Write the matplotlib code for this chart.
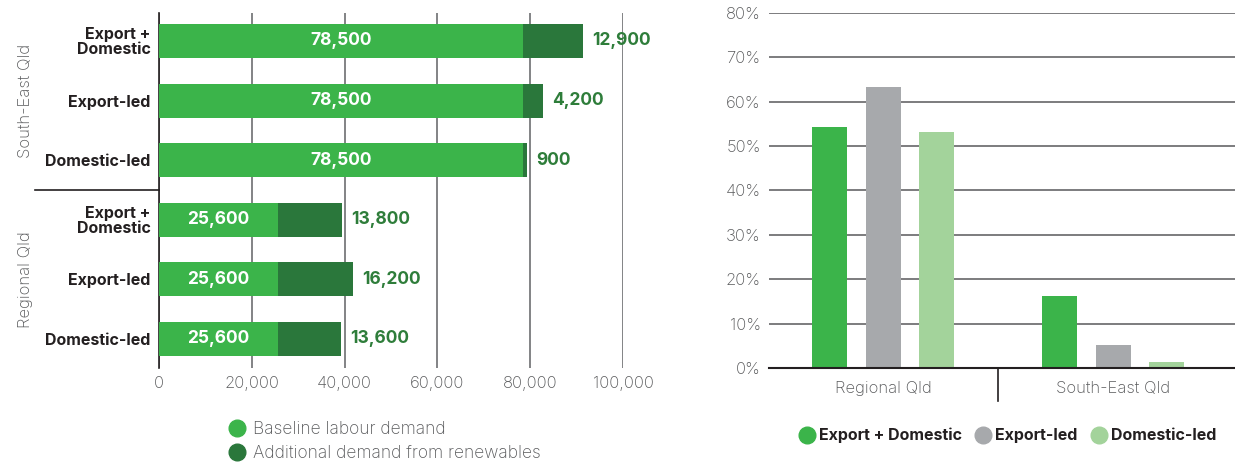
import matplotlib
matplotlib.use("Agg")
import matplotlib.pyplot as plt
from matplotlib.lines import Line2D
from matplotlib.transforms import blended_transform_factory

plt.rcParams['font.family'] = ['Inter', 'DejaVu Sans']

# ---- data ----
rows = ["Export +\nDomestic", "Export-led", "Domestic-led",
        "Export +\nDomestic", "Export-led", "Domestic-led"]
baseline = [78500, 78500, 78500, 25600, 25600, 25600]
additional = [12900, 4200, 900, 13800, 16200, 13600]
groups_left = ["South-East Qld", "Regional Qld"]
xticks_left = [0, 20000, 40000, 60000, 80000, 100000]

regions = ["Regional Qld", "South-East Qld"]
scenarios = ["Export + Domestic", "Export-led", "Domestic-led"]
share = {"Export + Domestic": [54.2, 16.2],
         "Export-led": [63.3, 5.2],
         "Domestic-led": [53.1, 1.3]}
yticks_right = [0, 10, 20, 30, 40, 50, 60, 70, 80]

GREEN = "#3BB44A"
DARK = "#2A773B"
LIGHT = "#A3D39B"
GREY = "#A7A9AC"
TXT = "#58595B"
VAL = "#2E7D3A"
DARKTXT = "#231F20"

fig = plt.figure(figsize=(12.35, 4.63), dpi=100)

# ---- left chart ----
ax = fig.add_axes([159/1235, 1-368/463, 464/1235, 355/463])
ypos = list(range(len(rows)))
ax.barh(ypos, baseline, height=0.57, color=GREEN, zorder=3)
ax.barh(ypos, additional, left=baseline, height=0.57, color=DARK, zorder=3)
ax.set_xlim(0, 100000)
ax.set_ylim(5.49, -0.47)
ax.set_xticks(xticks_left)
ax.set_xticklabels([f"{v:,}" for v in xticks_left], color=TXT, fontsize=12,
                   fontweight='light')
ax.tick_params(axis='x', length=0, pad=6)
ax.set_yticks(ypos)
ax.set_yticklabels(rows, fontsize=11.5, fontweight='bold', color=DARKTXT,
                   linespacing=0.95)
ax.tick_params(axis='y', length=0, pad=6)
for s in ['top', 'right', 'bottom']:
    ax.spines[s].set_visible(False)
ax.spines['left'].set_color(DARKTXT)
ax.spines['left'].set_linewidth(1.2)
ax.grid(axis='x', color="#6D6E71", linewidth=1.2, zorder=0)
ax.grid(axis='y', visible=False)
for y, b, a in zip(ypos, baseline, additional):
    ax.text(b/2, y, f"{b:,}", ha='center', va='center', color='white',
            fontsize=12.5, fontweight='bold', zorder=4)
    ax.text(b + a + 2000, y, f"{a:,}", ha='left', va='center', color=VAL,
            fontsize=12.5, fontweight='bold', clip_on=False)
# group separator and labels
trb = blended_transform_factory(ax.transAxes, ax.transData)
ax.plot([-0.267, 0], [2.5, 2.5], color=DARKTXT, lw=1.2, transform=trb,
        clip_on=False)
ax.text(-0.288, 1.0, groups_left[0], rotation=90, ha='center', va='center',
        transform=trb, color=TXT, fontsize=12, fontweight='light')
ax.text(-0.288, 4.0, groups_left[1], rotation=90, ha='center', va='center',
        transform=trb, color=TXT, fontsize=12, fontweight='light')

h1 = [Line2D([], [], marker='o', ls='', color=GREEN, markersize=12),
      Line2D([], [], marker='o', ls='', color=DARK, markersize=12)]
fig.legend(h1, ["Baseline labour demand", "Additional demand from renewables"],
           loc='upper left', bbox_to_anchor=(218/1235, 1-412/463), frameon=False,
           handletextpad=0.3, labelspacing=0.4, borderpad=0,
           handlelength=1.2, labelcolor=TXT,
           prop={'size': 12.5, 'weight': 'light'})

# ---- right chart ----
ax2 = fig.add_axes([769/1235, 1-368/463, 466/1235, 355.3/463])
w = 0.152
off = [-0.233, 0, 0.233]
cols = [GREEN, GREY, LIGHT]
for i, sc in enumerate(scenarios):
    ax2.bar([k + off[i] for k in range(len(regions))], share[sc], width=w,
            color=cols[i], zorder=3, label=sc)
ax2.set_xlim(-0.496, 1.53)
ax2.set_ylim(0, 80)
ax2.set_yticks(yticks_right)
ax2.set_yticklabels([f"{v}%" for v in yticks_right], color=TXT, fontsize=12,
                    fontweight='light')
ax2.tick_params(axis='y', length=0, pad=6)
ax2.set_xticks(range(len(regions)))
ax2.set_xticklabels(regions, color=TXT, fontsize=12, fontweight='light')
ax2.tick_params(axis='x', length=0, pad=9)
for s in ['top', 'right', 'left']:
    ax2.spines[s].set_visible(False)
ax2.spines['bottom'].set_color(DARKTXT)
ax2.spines['bottom'].set_linewidth(1.5)
ax2.spines['bottom'].set_zorder(4)
ax2.grid(axis='y', color="#58595B", linewidth=1.1, zorder=0)
ax2.grid(axis='x', visible=False)
trx = blended_transform_factory(ax2.transData, ax2.transAxes)
ax2.plot([0.5, 0.5], [0, -33/355], color=DARKTXT, lw=1.2, transform=trx,
         clip_on=False)

h2 = [Line2D([], [], marker='o', ls='', color=c, markersize=12) for c in cols]
fig.legend(h2, scenarios, loc='upper left', bbox_to_anchor=(789/1235, 1-420/463),
           ncol=3, frameon=False, handletextpad=0.15,
           columnspacing=0.75, borderpad=0, handlelength=1.2,
           labelcolor=DARKTXT, prop={'weight': 'bold', 'size': 11.5})

fig.savefig("out.png", dpi=100)
